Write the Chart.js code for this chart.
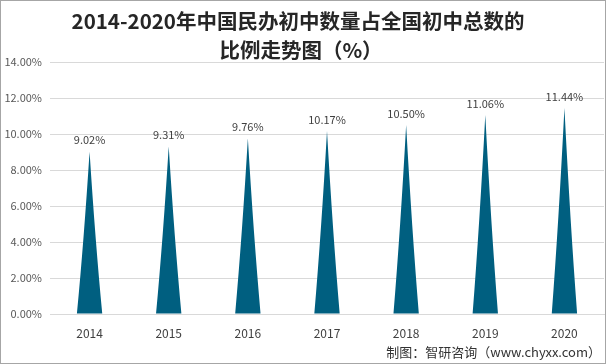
<!DOCTYPE html>
<html><head><meta charset="utf-8">
<script src="https://cdn.jsdelivr.net/npm/chart.js@4/dist/chart.umd.min.js"></script>
<style>html,body{margin:0;padding:0;background:#fff}#wrap{width:606px;height:364px;position:relative}</style>
</head><body><div id="wrap"><canvas id="c" width="606" height="364"></canvas></div>
<script>
const categories = ["2014","2015","2016","2017","2018","2019","2020"];
const shareValues = [9.02, 9.31, 9.76, 10.17, 10.50, 11.06, 11.44];
const yTicks = [0, 2, 4, 6, 8, 10, 12, 14];
const titleLines = ["2014-2020年中国民办初中数量占全国初中总数的", "比例走势图（%）"];
const sourceText = "制图：智研咨询（www.chyxx.com）";

const FONT = "'Noto Sans CJK SC','Noto Sans',sans-serif";
const spikeColor = "#005f80";

const spikePlugin = {
  id: "spikes",
  beforeDraw(chart) {
    const ctx = chart.ctx;
    ctx.save();
    ctx.fillStyle = "#fff";
    ctx.fillRect(0, 0, chart.width, chart.height);
    ctx.restore();
  },
  afterDatasetsDraw(chart) {
    const ctx = chart.ctx;
    const meta = chart.getDatasetMeta(0);
    ctx.save();
    meta.data.forEach((el, i) => {
      const p = el.getProps(["x", "y", "base", "width"], true);
      const hw = p.width / 2;
      const h = p.base - p.y;
      ctx.beginPath();
      ctx.moveTo(p.x - hw, p.base);
      ctx.quadraticCurveTo(p.x - hw * 0.45, p.base - h * 0.45, p.x, p.y);
      ctx.quadraticCurveTo(p.x + hw * 0.45, p.base - h * 0.45, p.x + hw, p.base);
      ctx.closePath();
      ctx.fillStyle = spikeColor;
      ctx.fill();
      ctx.font = "11px " + FONT;
      ctx.fillStyle = "#404040";
      ctx.textAlign = "center";
      ctx.textBaseline = "bottom";
      ctx.fillText(shareValues[i].toFixed(2) + "%", p.x, p.y - 6);
    });
    ctx.restore();
  },
  afterDraw(chart) {
    const ctx = chart.ctx;
    ctx.save();
    ctx.fillStyle = "#262626";
    ctx.font = "bold 20.5px " + FONT;
    ctx.textAlign = "center";
    ctx.textBaseline = "middle";
    ctx.fillText(titleLines[0], 298, 21);
    ctx.fillText(titleLines[1], 301, 50);
    ctx.font = "13px " + FONT;
    ctx.fillStyle = "#333";
    ctx.textAlign = "right";
    ctx.fillText(sourceText, 601, 352);
    ctx.strokeStyle = "#a6a6a6";
    ctx.lineWidth = 1;
    ctx.strokeRect(0.5, 0.5, chart.width - 1, chart.height - 1);
    ctx.restore();
  }
};

new Chart(document.getElementById("c"), {
  type: "bar",
  data: {
    labels: categories,
    datasets: [{
      data: shareValues,
      backgroundColor: "rgba(0,0,0,0)",
      borderWidth: 0,
      barPercentage: 0.32,
      categoryPercentage: 1.0
    }]
  },
  options: {
    responsive: false,
    animation: false,
    devicePixelRatio: 1,
    layout: { padding: { top: 62, right: 2, bottom: 20, left: 0 } },
    plugins: { legend: { display: false }, tooltip: { enabled: false }, title: { display: false } },
    scales: {
      x: {
        grid: { display: false },
        border: { color: "#d9d9d9" },
        ticks: { color: "#404040", font: { size: 12, family: FONT }, padding: 4 },
        afterFit(s) { s.height = 30; }
      },
      y: {
        min: 0, max: 14,
        afterBuildTicks(s) { s.ticks = yTicks.map(v => ({ value: v })); },
        grid: { color: "#d9d9d9", drawTicks: false },
        border: { display: false },
        ticks: { color: "#595959", font: { size: 11, family: FONT }, padding: 8,
          callback: v => v.toFixed(2) + "%" },
        afterFit(s) { s.width = 50; }
      }
    }
  },
  plugins: [spikePlugin]
});
</script></body></html>
